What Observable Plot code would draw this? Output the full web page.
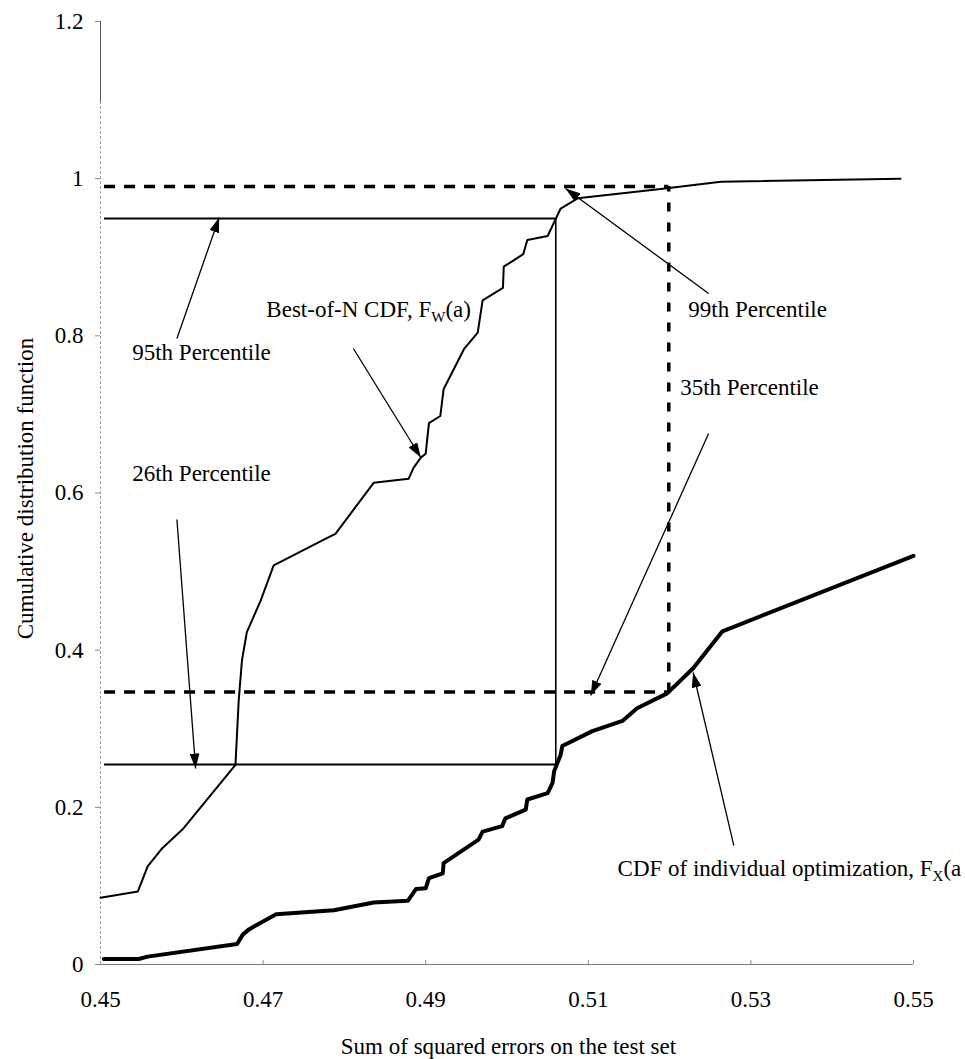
<!DOCTYPE html>
<html>
<head>
<meta charset="utf-8">
<script src="https://cdn.jsdelivr.net/npm/d3@7"></script>
<script src="https://cdn.jsdelivr.net/npm/@observablehq/plot@0.6"></script>
<style>
html, body { margin: 0; padding: 0; background: #fff; overflow: hidden; }
</style>
</head>
<body>
<div id="chart"></div>
<script>
// ---- Data ----
// Best-of-N CDF, F_W(a)
const bestErr = [0.4500,0.4546,0.4558,0.4576,0.4601,0.4666,0.4670,0.4674,0.4680,0.4697,0.4713,0.4779,0.4789,0.4836,0.4879,0.4885,0.4894,0.4900,0.4904,0.4918,0.4922,0.4947,0.4964,0.4970,0.4995,0.4996,0.5020,0.5025,0.5050,0.5060,0.5066,0.5087,0.5189,0.5263,0.5484];
const bestCdf = [0.085,0.093,0.125,0.148,0.172,0.254,0.336,0.387,0.423,0.463,0.508,0.543,0.548,0.613,0.618,0.632,0.645,0.650,0.689,0.698,0.732,0.783,0.804,0.845,0.861,0.888,0.904,0.922,0.927,0.949,0.962,0.975,0.987,0.996,1.000];

// CDF of individual optimization, F_X(a)
const indivErr = [0.4504,0.4547,0.4558,0.4668,0.4675,0.4683,0.4716,0.4787,0.4836,0.4878,0.4888,0.4900,0.4904,0.4921,0.4922,0.4965,0.4970,0.4994,0.4998,0.5023,0.5025,0.5050,0.5056,0.5058,0.5066,0.5068,0.5105,0.5142,0.5160,0.5197,0.5229,0.5265,0.5500];
const indivCdf = [0.007,0.007,0.010,0.026,0.038,0.045,0.064,0.069,0.079,0.081,0.096,0.097,0.110,0.116,0.129,0.159,0.169,0.176,0.186,0.197,0.210,0.218,0.231,0.246,0.267,0.278,0.297,0.310,0.326,0.345,0.377,0.424,0.520];

// Percentile guide lines
const guideStart = 0.4505;
const solidLevels = [0.9493, 0.2545];   // 95th and 26th percentile (Best-of-N)
const solidEnd = 0.5060;
const dashedLevels = [0.9900, 0.3468];  // 99th and 35th percentile (individual)
const dashedEnd = 0.5199;

// Axis ticks
const xTicks = [0.45, 0.47, 0.49, 0.51, 0.53, 0.55];
const xTickLabels = ["0.45", "0.47", "0.49", "0.51", "0.53", "0.55"];
const yTicks = [0, 0.2, 0.4, 0.6, 0.8, 1, 1.2];
const yTickLabels = ["0", "0.2", "0.4", "0.6", "0.8", "1", "1.2"];
const xTitle = "Sum of squared errors on the test set";
const yTitle = "Cumulative distribution function";

// Annotation labels (data coordinates, left-aligned)
const labelText = ["95th Percentile", "26th Percentile", "Best-of-N CDF, F_W(a)", "99th Percentile", "35th Percentile", "CDF of individual optimization, F_X(a"];
const labelX = [0.4539, 0.4539, 0.4704, 0.5223, 0.5213, 0.5136];
const labelY = [0.7781, 0.6241, 0.8328, 0.8328, 0.7335, 0.1214];

// Annotation arrows (from -> to, data coordinates)
const arrowX1 = [0.4594, 0.4811, 0.5248, 0.5248, 0.4594, 0.5279];
const arrowY1 = [0.7966, 0.7839, 0.8539, 0.6757, 0.5663, 0.1514];
const arrowX2 = [0.4646, 0.4894, 0.5072, 0.5103, 0.4617, 0.5229];
const arrowY2 = [0.9506, 0.6452, 0.9875, 0.3423, 0.2494, 0.3716];

// ---- Build tables ----
const best = bestErr.map((x, i) => ({x, y: bestCdf[i]}));
const indiv = indivErr.map((x, i) => ({x, y: indivCdf[i]}));
const labels = labelText.map((t, i) => ({t, x: labelX[i], y: labelY[i]}));
const arrows = arrowX1.map((x1, i) => ({x1, y1: arrowY1[i], x2: arrowX2[i], y2: arrowY2[i]}));
const xLab = new Map(xTicks.map((d, i) => [d, xTickLabels[i]]));
const yLab = new Map(yTicks.map((d, i) => [d, yTickLabels[i]]));

const FONT = "'Liberation Serif', 'Times New Roman', serif";

const plot = Plot.plot({
  width: 965,
  height: 1059,
  marginLeft: 100,
  marginRight: 52,
  marginTop: 21,
  marginBottom: 95,
  style: {fontFamily: FONT, fontSize: "23px", color: "#000", background: "#fff", overflow: "hidden"},
  x: {domain: [0.45, 0.55], ticks: xTicks, tickFormat: d => xLab.get(d) ?? String(d), tickSize: 0, tickPadding: 26, label: null},
  y: {domain: [0, 1.2], ticks: yTicks, tickFormat: d => yLab.get(d) ?? String(d), tickSize: 5, tickPadding: 12, label: null},
  marks: [
    // axis lines
    Plot.ruleX([0.45], {y1: 0, y2: 1.097, stroke: "#a0a0a0", strokeWidth: 1, strokeDasharray: "3,2"}),
    Plot.ruleX([0.45], {y1: 1.097, y2: 1.2, stroke: "#555", strokeWidth: 1}),
    Plot.ruleY([0], {x1: 0.45, x2: 0.55, stroke: "#7a7a7a", strokeWidth: 1}),
    Plot.ruleX(xTicks.slice(1), {y1: 0, y2: 0.005, stroke: "#888", strokeWidth: 1}),
    // percentile guides
    Plot.ruleY(solidLevels, {x1: guideStart, x2: solidEnd, stroke: "#000", strokeWidth: 1.8}),
    Plot.ruleX([solidEnd], {y1: solidLevels[1], y2: solidLevels[0], stroke: "#000", strokeWidth: 1.6}),
    Plot.ruleY(dashedLevels, {x1: guideStart, x2: dashedEnd, stroke: "#000", strokeWidth: 3.5, strokeDasharray: "11,9"}),
    Plot.ruleX([dashedEnd], {y1: dashedLevels[1], y2: dashedLevels[0], stroke: "#000", strokeWidth: 3.5, strokeDasharray: "9,11"}),
    // curves
    Plot.line(best, {x: "x", y: "y", stroke: "#000", strokeWidth: 2, strokeLinejoin: "round"}),
    Plot.line(indiv, {x: "x", y: "y", stroke: "#000", strokeWidth: 4, strokeLinejoin: "round"}),
    // annotation arrows
    Plot.link(arrows, {x1: "x1", y1: "y1", x2: "x2", y2: "y2", stroke: "#000", strokeWidth: 1.3}),
    // annotation labels
    Plot.text(labels, {x: "x", y: "y", text: "t", textAnchor: "start", fontSize: 23, fill: "#000"}),
    // axis titles
    Plot.text([yTitle], {frameAnchor: "left", textAnchor: "middle", lineAnchor: "middle", dx: -74.4, dy: -4.5, rotate: -90, fontSize: 23, fill: "#000"}),
    Plot.text([xTitle], {frameAnchor: "bottom", textAnchor: "middle", lineAnchor: "middle", dx: 1.5, dy: 82.6, fontSize: 23, fill: "#000"})
  ]
});

document.getElementById("chart").appendChild(plot);

// ---- Post-processing: filled arrowheads, subscripts, tick colours ----
const svg = d3.select(plot);
const defs = svg.insert("defs", ":first-child");
defs.append("marker")
  .attr("id", "arrowhead")
  .attr("viewBox", "0 0 15 10")
  .attr("refX", 15).attr("refY", 5)
  .attr("markerWidth", 15).attr("markerHeight", 10)
  .attr("markerUnits", "userSpaceOnUse")
  .attr("orient", "auto")
  .append("path").attr("d", "M0,0L15,5L0,10Z").attr("fill", "#000").attr("stroke", "none");
svg.selectAll('g[aria-label="link"] path').attr("marker-end", "url(#arrowhead)");

svg.selectAll('g[aria-label="text"] text').each(function () {
  const t = this.textContent;
  if (!t.includes("_")) return;
  const parts = t.split(/_(\w)/);
  const el = d3.select(this);
  el.text(null);
  parts.forEach((p, i) => {
    if (!p) return;
    if (i % 2 === 1) {
      el.append("tspan").attr("font-size", 15).attr("dy", 5).text(p);
    } else {
      const ts = el.append("tspan").text(p);
      if (i > 0) ts.attr("dy", -5);
    }
  });
});

svg.selectAll('g[aria-label^="y-axis"] line, g[aria-label="y-axis tick"] path').attr("stroke", "#888");
</script>
</body>
</html>
